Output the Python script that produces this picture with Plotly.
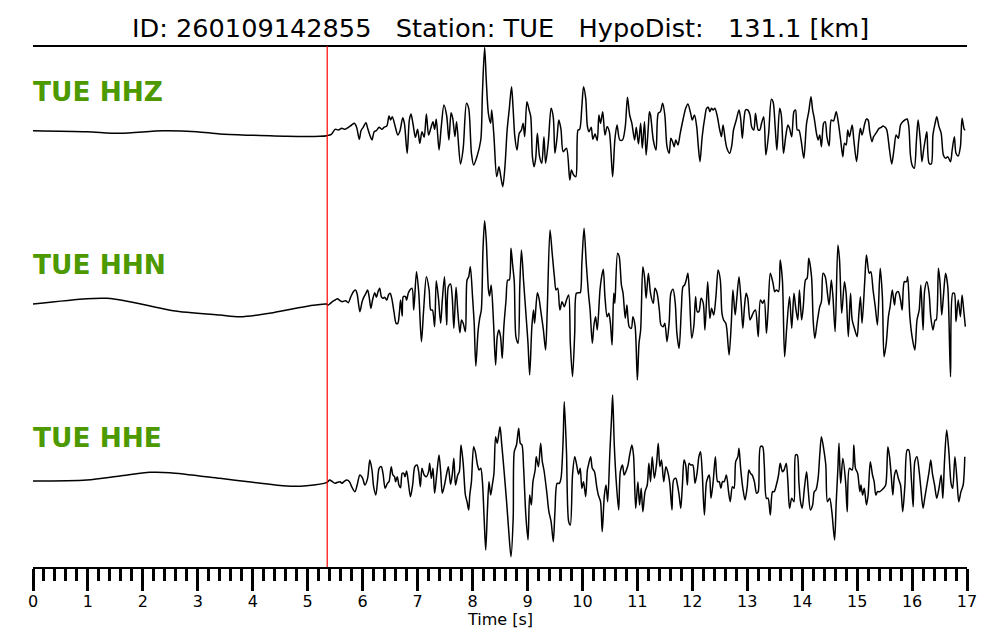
import plotly.graph_objects as go

# ---------------- data ----------------
title_text = "ID: 260109142855   Station: TUE   HypoDist:   131.1 [km]"
station = "TUE"
channels = ["HHZ", "HHN", "HHE"]
p_pick = 5.355           # P pick time [s]
tick_values = list(range(0, 18))

# (time [s], amplitude [counts, arbitrary]) samples per channel
hhz_samples = [
    (0.00, 1), (0.98, -2), (1.58, -7), (2.37, 1), (2.98, -2), (3.40, -9), (4.00, -13), (4.62, -16), (5.22, -16),
    (5.35, -14), (5.43, -10), (5.50, 5), (5.56, 3), (5.62, 8), (5.68, 5), (5.74, 11), (5.80, 18), (5.85, 23), (5.89, 11),
    (5.94, -25), (5.97, 1), (6.01, 11), (6.06, 25), (6.09, 9), (6.13, -12), (6.17, -27), (6.21, -2), (6.25, 1), (6.30, 11),
    (6.35, 5), (6.39, 11), (6.44, 15), (6.48, 45), (6.51, 33), (6.54, 43), (6.59, 15), (6.64, -12), (6.68, 1), (6.73, 40),
    (6.76, 23), (6.81, -67), (6.85, 33), (6.88, 51), (6.92, 18), (6.96, -19), (7.00, 5), (7.04, -37), (7.08, -2), (7.12, -19),
    (7.16, 51), (7.20, -12), (7.24, 8), (7.28, 28), (7.31, 5), (7.34, 35), (7.39, -57), (7.43, 11), (7.48, 78), (7.53, 45),
    (7.57, -27), (7.61, 55), (7.64, 38), (7.68, -17), (7.71, 28), (7.78, -99), (7.83, -52), (7.89, 83), (7.93, 68), (7.98, -67),
    (8.02, -102), (8.08, -77), (8.15, -27), (8.18, 113), (8.22, 251), (8.25, 153), (8.29, 51), (8.33, 23), (8.35, 63), (8.39, -17),
    (8.44, -137), (8.48, -107), (8.50, -122), (8.55, -167), (8.59, -107), (8.63, 3), (8.67, 68), (8.71, 133), (8.74, 63), (8.77, -17),
    (8.81, -57), (8.85, -7), (8.89, 3), (8.92, 23), (8.95, -17), (8.99, 88), (9.03, 63), (9.06, 43), (9.09, -77), (9.12, -107),
    (9.15, -82), (9.18, -7), (9.22, -77), (9.26, -97), (9.30, -17), (9.33, -97), (9.38, -32), (9.43, 68), (9.47, 41), (9.50, -67),
    (9.54, -17), (9.57, 33), (9.61, 5), (9.65, -62), (9.71, -52), (9.77, -147), (9.80, -117), (9.84, -132), (9.88, -137), (9.92, 3),
    (9.95, 5), (9.99, 73), (10.02, 133), (10.06, 98), (10.09, 15), (10.12, -2), (10.16, 11), (10.19, -25), (10.23, -9), (10.27, -29),
    (10.30, 48), (10.33, 23), (10.37, 58), (10.41, -12), (10.45, 13), (10.49, -2), (10.55, -137), (10.59, -27), (10.63, 18), (10.68, -27),
    (10.73, -27), (10.78, 13), (10.82, 101), (10.86, 48), (10.90, 23), (10.95, -27), (10.98, 11), (11.02, -39), (11.06, 23), (11.09, -52),
    (11.13, 28), (11.16, -72), (11.20, 13), (11.22, 58),
    (11.24, 48), (11.29, -27), (11.34, -57), (11.38, 53), (11.42, 58), (11.46, 83), (11.50, 48), (11.54, -47), (11.58, -67), (11.61, -22),
    (11.64, -32), (11.67, -47), (11.70, -27), (11.74, -42), (11.78, -7), (11.83, 33), (11.88, 68), (11.92, 81), (11.97, 53), (12.00, 33),
    (12.04, 48), (12.08, 13), (12.11, -47), (12.14, -92), (12.18, -17), (12.23, 43), (12.26, 68), (12.29, 71), (12.32, 58), (12.35, 68),
    (12.38, 63), (12.41, 68), (12.45, 48), (12.50, 3), (12.53, -17), (12.56, 18), (12.60, -27), (12.63, -52), (12.68, -67), (12.72, -42),
    (12.75, 3), (12.80, 33), (12.85, 63), (12.88, 38), (12.91, -22), (12.94, 33), (12.97, 63), (13.01, 63), (13.05, 48), (13.08, 13),
    (13.12, 3), (13.15, 53), (13.20, 3), (13.23, 3), (13.26, 23), (13.30, 43), (13.34, -72), (13.39, -7), (13.44, 95), (13.47, 88),
    (13.51, 8), (13.54, -57), (13.59, 68), (13.62, 48), (13.66, -67), (13.70, -17), (13.74, 18), (13.77, 8), (13.81, -17), (13.85, 58),
    (13.88, 63), (13.91, 3), (13.94, 3), (13.98, -27), (14.03, -82), (14.08, 23), (14.12, 58), (14.16, 103), (14.19, 63), (14.22, 38),
    (14.26, -7), (14.29, -27), (14.32, -12), (14.35, -47), (14.39, 23), (14.42, 28), (14.45, -17), (14.49, -45), (14.53, 33), (14.57, 30),
    (14.62, 58), (14.66, 23), (14.70, -27), (14.74, -77), (14.77, -37), (14.80, -42), (14.83, 3), (14.86, -17), (14.91, 18), (14.94, -27),
    (14.99, -92), (15.03, -27), (15.06, 8), (15.09, -12), (15.14, 23), (15.17, 36), (15.20, 33), (15.23, -2), (15.27, -32), (15.30, -17),
    (15.35, -5), (15.40, 8), (15.44, 11), (15.47, 15), (15.51, 11), (15.54, 3), (15.59, -57), (15.63, -99), (15.67, -57), (15.71, -12),
    (15.75, -22), (15.79, 18), (15.83, 28), (15.87, 33), (15.91, 36), (15.94, 15), (15.97, -72), (16.00, -102), (16.04, -112), (16.08, -27),
    (16.11, 33), (16.15, -27), (16.18, -92), (16.21, -57), (16.25, -17), (16.27, -2), (16.31, -97), (16.35, -99), (16.38, -12), (16.42, 23),
    (16.45, 43), (16.49, 13), (16.53, -7), (16.57, -72), (16.61, -82), (16.65, -77), (16.70, -92), (16.73, -57), (16.77, -17), (16.80, -67),
    (16.84, -75), (16.88, -47), (16.91, 38), (16.95, 5), (16.97, 3),
]

hhn_samples = [
    (0.00, 0), (0.98, 16), (1.34, 17), (1.76, 7), (2.55, -20), (3.40, -33), (3.77, -38), (4.37, -26), (5.04, -5), (5.34, 0),
    (5.37, -3), (5.40, 0), (5.45, 7), (5.50, 12), (5.54, 16), (5.59, 10), (5.63, 7), (5.69, 10), (5.74, 4), (5.78, 20),
    (5.83, 37), (5.87, 42), (5.90, 30), (5.95, -23), (5.99, 7), (6.02, 20), (6.06, 32), (6.09, 42), (6.12, 20), (6.15, -13),
    (6.18, 12), (6.22, 34), (6.25, 20), (6.28, 37), (6.31, 47), (6.34, 22), (6.37, 17), (6.40, 20), (6.44, 12), (6.47, 27),
    (6.50, 32), (6.53, 17), (6.57, -23), (6.61, -58), (6.64, -58), (6.67, -23), (6.69, 12), (6.72, -36), (6.74, 22), (6.78, 22),
    (6.80, 12), (6.83, 32), (6.86, 42), (6.90, 47), (6.93, -18), (6.98, 97), (7.02, 37), (7.07, -113), (7.11, -18), (7.16, 82),
    (7.21, 42), (7.24, -18), (7.27, -18), (7.31, -68), (7.34, 70), (7.38, 17), (7.42, -58), (7.45, 12), (7.49, 82), (7.53, -63),
    (7.56, 52), (7.60, 60), (7.63, 22), (7.66, -73), (7.70, 50), (7.73, -18), (7.77, -86), (7.80, -48), (7.83, -58), (7.87, -83),
    (7.90, 72), (7.93, 82), (7.96, 112), (8.00, 22), (8.03, -58), (8.06, -186), (8.10, -83), (8.13, -43), (8.16, -18), (8.19, 162),
    (8.22, 250), (8.25, 192), (8.29, 42), (8.31, 24), (8.34, 57), (8.38, -48), (8.42, -183), (8.45, -98), (8.48, -78), (8.51, -98),
    (8.54, -163), (8.57, -68), (8.61, 12), (8.64, 72), (8.67, 72), (8.70, 167), (8.73, 117), (8.76, 67), (8.79, -98), (8.83, -118),
    (8.86, 52), (8.89, 162), (8.93, 67), (8.98, -48), (9.01, -118), (9.04, -213), (9.08, -68), (9.11, -18), (9.13, -58), (9.18, 34),
    (9.21, 17), (9.24, -18), (9.29, -78), (9.33, -138), (9.36, -18), (9.41, 222), (9.45, 152), (9.49, 82), (9.52, 42), (9.55, 47),
    (9.59, -18), (9.63, 7), (9.67, -8), (9.71, 12), (9.75, 27), (9.78, -118), (9.82, -218), (9.86, -88), (9.89, 32), (9.93, 34),
    (9.96, 34), (9.99, 122), (10.03, 227), (10.07, 122), (10.11, 32), (10.14, -18), (10.18, -118), (10.21, -63), (10.24, -38), (10.27, -78),
    (10.32, 42), (10.35, 82), (10.38, 104), (10.41, 22), (10.45, -38), (10.48, -28), (10.51, -58), (10.54, -123), (10.57, 32), (10.59, 2),
    (10.64, 152), (10.67, 142), (10.71, 57), (10.74, 32), (10.78, -43), (10.81, -3), (10.85, -68), (10.89, -73), (10.92, -38), (10.96, -68),
    (11.00, -228), (11.03, -118), (11.06, -78), (11.10, 112), (11.13, 82), (11.16, 17), (11.20, 92),
    (11.24, 32), (11.29, 2), (11.32, 47), (11.36, 32), (11.40, -18), (11.43, -63), (11.47, -68), (11.50, -58), (11.54, -113), (11.58, -53),
    (11.61, 32), (11.65, 44), (11.69, 2), (11.72, -88), (11.76, -133), (11.80, -18), (11.83, 52), (11.86, 57), (11.89, 72), (11.92, 92),
    (11.95, 22), (11.99, -103), (12.03, -63), (12.06, 22), (12.09, -23), (12.12, -23), (12.16, 17), (12.20, 2), (12.23, -78), (12.28, 67),
    (12.32, -43), (12.35, -13), (12.39, -33), (12.43, 22), (12.47, 102), (12.51, 72), (12.54, -28), (12.57, -48), (12.61, -58), (12.63, -78),
    (12.67, -153), (12.71, -58), (12.74, 42), (12.78, -33), (12.81, 17), (12.85, 82), (12.89, 2), (12.92, -73), (12.95, -8), (12.98, 32),
    (13.01, 17), (13.05, -48), (13.08, -38), (13.12, -23), (13.15, -18), (13.20, -98), (13.24, 12), (13.28, 2), (13.31, 12), (13.35, -88),
    (13.38, -18), (13.42, 92), (13.47, 62), (13.50, 37), (13.53, 42), (13.57, 37), (13.60, 132), (13.64, 72), (13.68, -158), (13.72, -68),
    (13.77, 22), (13.81, -73), (13.85, 32), (13.88, -8), (13.92, -48), (13.95, 42), (13.99, -48), (14.02, -8), (14.06, 72), (14.09, 77),
    (14.12, 137), (14.17, 82), (14.20, -48), (14.23, -103), (14.27, -58), (14.32, -8), (14.35, 7), (14.38, 92), (14.42, 82), (14.46, 32),
    (14.49, -3), (14.53, 72), (14.56, 22), (14.60, -83), (14.65, 177), (14.68, 132), (14.72, -28), (14.77, 67), (14.80, 32), (14.84, -98),
    (14.88, 32), (14.91, -48), (14.96, -78), (15.00, -98), (15.03, -33), (15.06, 22), (15.09, -58), (15.14, 72), (15.17, 147), (15.22, 92),
    (15.25, 97), (15.29, 42), (15.33, -8), (15.37, -63), (15.42, 107), (15.46, 22), (15.49, -158), (15.53, -118), (15.57, -38), (15.60, -8),
    (15.64, 42), (15.68, -3), (15.71, 32), (15.75, 37), (15.79, 12), (15.82, -18), (15.86, 67), (15.90, 67), (15.92, 82), (15.96, -38),
    (16.00, -98), (16.05, -138), (16.09, -48), (16.13, -18), (16.16, 57), (16.20, -78), (16.23, 42), (16.27, 67), (16.31, 32), (16.34, -38),
    (16.38, -78), (16.42, -48), (16.44, -48), (16.48, 107), (16.51, 62), (16.54, -33), (16.57, 22), (16.61, 92), (16.65, 52), (16.70, -218),
    (16.74, 32), (16.77, 32), (16.80, -53), (16.84, 12), (16.88, -38), (16.91, 27), (16.94, -18), (16.97, -68),
]

hhe_samples = [
    (0.00, 0), (0.98, 3), (1.58, 15), (2.13, 26), (2.49, 25), (3.40, 8), (4.00, -4), (4.62, -15), (4.98, -14),
    (5.35, -4), (5.40, 3), (5.45, -2), (5.50, -7), (5.54, -4), (5.59, -2), (5.62, -7), (5.66, -2), (5.71, 3), (5.76, -2),
    (5.80, -17), (5.86, -32), (5.90, -12), (5.95, 18), (6.00, 8), (6.04, -12), (6.09, 8), (6.13, 63), (6.17, 33), (6.20, -17),
    (6.24, -42), (6.27, -2), (6.30, 38), (6.34, 43), (6.37, 23), (6.41, -22), (6.45, -7), (6.48, -2), (6.52, 43), (6.55, 18),
    (6.58, 13), (6.60, -2), (6.63, 13), (6.66, -12), (6.69, -20), (6.72, 23), (6.75, 23), (6.77, 13), (6.80, 30), (6.83, -2),
    (6.87, -47), (6.91, -12), (6.95, 43), (6.99, 48), (7.02, 28), (7.05, -17), (7.08, 38), (7.12, 18), (7.16, 13), (7.20, 28),
    (7.22, 53), (7.25, 8), (7.28, 38), (7.31, -37), (7.35, 23), (7.39, 78), (7.42, 28), (7.45, -37), (7.49, -12), (7.53, 23),
    (7.56, 43), (7.60, -10), (7.63, 18), (7.66, 68), (7.69, -12), (7.73, 18), (7.76, 28), (7.79, 108), (7.83, 53), (7.87, -42),
    (7.90, -62), (7.93, -87), (7.95, -42), (7.98, -2), (8.02, 103), (8.05, 88), (8.09, 48), (8.12, 33), (8.15, 38), (8.18, -2),
    (8.21, -107), (8.24, -207), (8.27, -92), (8.30, -2), (8.33, -42), (8.36, -12), (8.39, 23), (8.42, 133), (8.45, 113), (8.50, 163),
    (8.53, 113), (8.57, 38), (8.62, -62), (8.66, -152), (8.70, -227), (8.74, -112), (8.76, 88), (8.80, 108), (8.84, 158), (8.87, 113),
    (8.90, 108), (8.93, 38), (8.97, -102), (9.01, -177), (9.04, -42), (9.07, -72), (9.10, -2), (9.14, 33), (9.16, 73), (9.20, 43),
    (9.24, 113), (9.27, 58), (9.30, 33), (9.35, -32), (9.39, -92), (9.43, -122), (9.47, -182), (9.50, -92), (9.54, -7), (9.58, -7),
    (9.61, 8), (9.65, 128), (9.67, 238), (9.71, 88), (9.75, -122), (9.78, -132), (9.82, 18), (9.86, 73), (9.89, 53), (9.93, 20),
    (9.96, 38), (9.99, -22), (10.02, -2), (10.06, -47), (10.09, 33), (10.11, 48), (10.15, 73), (10.18, 38), (10.22, 28), (10.26, -17),
    (10.29, -42), (10.33, -62), (10.36, -152), (10.40, -42), (10.43, -12), (10.46, -62), (10.50, 88), (10.53, 188), (10.55, 258), (10.58, 108),
    (10.62, -12), (10.66, -87), (10.69, 28), (10.73, 48), (10.76, 18), (10.79, 28), (10.83, 48), (10.86, 78), (10.90, 108), (10.93, 78),
    (10.97, -82), (11.01, -2), (11.04, -72), (11.07, -22), (11.10, -92), (11.14, -32), (11.18, -12), (11.21, 53),
    (11.24, -2), (11.27, 73), (11.31, 8), (11.35, 53), (11.38, 113), (11.41, 43), (11.44, 63), (11.48, -2), (11.52, 43), (11.56, 23),
    (11.59, -7), (11.63, -87), (11.66, 3), (11.70, 8), (11.73, -12), (11.76, -42), (11.79, -82), (11.82, -12), (11.85, 63), (11.88, 48),
    (11.91, -12), (11.94, 53), (11.97, 48), (12.01, 48), (12.05, -7), (12.09, 28), (12.12, 73), (12.15, 88), (12.18, 28), (12.22, -102),
    (12.26, -2), (12.31, 18), (12.34, -52), (12.38, -2), (12.42, 73), (12.46, -2), (12.49, -2), (12.52, -22), (12.55, -2), (12.58, -2),
    (12.62, 18), (12.66, -32), (12.69, -62), (12.73, -17), (12.76, -22), (12.79, 58), (12.83, 73), (12.85, 98), (12.88, 38), (12.92, -22),
    (12.96, -57), (13.00, -17), (13.03, 33), (13.06, 23), (13.09, 18), (13.13, -2), (13.17, -37), (13.20, -32), (13.24, 103), (13.28, 103),
    (13.31, 48), (13.35, -52), (13.38, -52), (13.42, -102), (13.46, -32), (13.49, -32), (13.53, -12), (13.57, 18), (13.60, 53), (13.64, 28),
    (13.67, 33), (13.71, 53), (13.74, -2), (13.77, -82), (13.81, -52), (13.85, -62), (13.88, 78), (13.91, 78), (13.94, -2), (13.97, -62),
    (14.00, -82), (14.04, -22), (14.08, 28), (14.11, -27), (14.15, -87), (14.19, -72), (14.22, -32), (14.25, -27), (14.29, 8), (14.32, 78),
    (14.35, 133), (14.39, 98), (14.43, 48), (14.46, -62), (14.50, -52), (14.54, -92), (14.59, -177), (14.62, -62), (14.65, 38), (14.67, 113),
    (14.70, -7), (14.74, 68), (14.79, -2), (14.82, -92), (14.86, 38), (14.91, 33), (14.94, 108), (14.97, 38), (15.01, 23), (15.05, -32),
    (15.07, -12), (15.10, -42), (15.13, -22), (15.17, -72), (15.20, -42), (15.24, 58), (15.28, 18), (15.31, -2), (15.34, -42), (15.37, -32),
    (15.41, -32), (15.45, -27), (15.48, -22), (15.52, -12), (15.56, 103), (15.59, 73), (15.62, 18), (15.65, -42), (15.68, 18), (15.71, 33),
    (15.75, 8), (15.79, -12), (15.83, -92), (15.87, -12), (15.91, 93), (15.94, 93), (15.99, -2), (16.02, -77), (16.05, 58), (16.09, 73),
    (16.13, 28), (16.16, -22), (16.20, -82), (16.23, -52), (16.27, -12), (16.31, 28), (16.34, 63), (16.37, 23), (16.41, -12), (16.45, -52),
    (16.49, -22), (16.53, 18), (16.56, -52), (16.59, 58), (16.63, 153), (16.67, 88), (16.71, -7), (16.74, -22), (16.78, 73), (16.82, -2),
    (16.85, -62), (16.89, -32), (16.93, -12), (16.96, 73),
]

# ---------------- figure ----------------
label_color = "#4C9900"
font_family = "DejaVu Sans"

fig = go.Figure()
y_axes = ["y", "y2", "y3"]
for samples, yax in zip([hhz_samples, hhn_samples, hhe_samples], y_axes):
    t, a = zip(*samples)
    fig.add_trace(go.Scatter(
        x=list(t), y=list(a), yaxis=yax, mode="lines",
        line=dict(color="black", width=1.5, shape="spline", smoothing=0.8),
        showlegend=False, hoverinfo="skip",
    ))

# channel labels (y position in paper coordinates of each trace band)
label_y = [0.9136, 0.5797, 0.2486]
annotations = []
for ch, yp in zip(channels, label_y):
    annotations.append(dict(
        text=f"{station} {ch}", x=0, xref="paper", xanchor="left", xshift=-2,
        y=yp, yref="paper", yanchor="middle", showarrow=False,
        font=dict(family=font_family, size=26.4, color=label_color, weight="bold"),
    ))
annotations.append(dict(
    text=title_text.replace(" ", "\u00a0"), x=0.5, xref="paper", xanchor="center",
    y=1.0336, yref="paper", yanchor="middle", showarrow=False,
    font=dict(family=font_family, size=25.6, color="black"),
))
annotations.append(dict(
    text="Time [s]", x=0.5, xref="paper", xanchor="center",
    y=-0.1, yref="paper", yanchor="middle", showarrow=False,
    font=dict(family=font_family, size=16, color="black"),
))

shapes = [
    dict(type="line", xref="paper", yref="paper", x0=0, x1=1, y0=1, y1=1,
         line=dict(color="black", width=2)),
    dict(type="line", xref="x", yref="paper", x0=p_pick, x1=p_pick, y0=0, y1=1,
         line=dict(color="red", width=1.2)),
]

fig.update_layout(
    width=1000, height=640,
    margin=dict(l=33, r=33, t=46, b=73),
    paper_bgcolor="white", plot_bgcolor="white",
    annotations=annotations, shapes=shapes,
    xaxis=dict(
        range=[0, 17], tickvals=tick_values, ticktext=[str(v) for v in tick_values],
        ticks="outside", ticklen=22, tickwidth=2.5, tickcolor="black",
        showline=True, linecolor="black", linewidth=2,
        showgrid=False, zeroline=False, ticklabelstandoff=-3,
        tickfont=dict(family=font_family, size=16, color="black"),
        minor=dict(ticks="outside", ticklen=12, tickwidth=2.5, tickcolor="black",
                   dtick=0.2, tick0=0, showgrid=False),
        anchor="y",
    ),
    yaxis=dict(domain=[0, 1], range=[-1308, 255], visible=False, fixedrange=True),
    yaxis2=dict(overlaying="y", range=[-789, 774], visible=False, fixedrange=True),
    yaxis3=dict(overlaying="y", range=[-258, 1305], visible=False, fixedrange=True),
)

fig.write_html("out.html", config={"displayModeBar": False},
               post_script="document.body.style.margin='0';")
